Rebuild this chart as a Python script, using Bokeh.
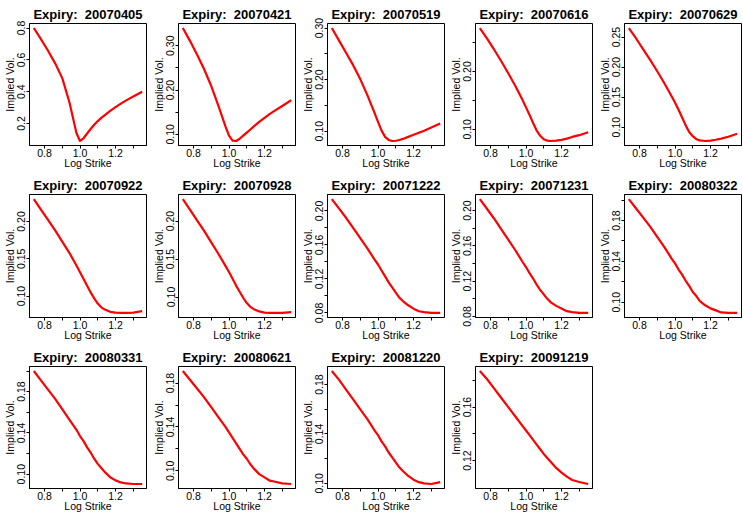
from bokeh.plotting import figure
from bokeh.layouts import gridplot
from bokeh.models import Range1d, FixedTicker, PrintfTickFormatter
from bokeh.embed import file_html
from bokeh.resources import INLINE

# ---------------- data ----------------
LOG_STRIKE = [0.74, 0.78, 0.82, 0.86, 0.90, 0.94, 0.98, 1.00, 1.02, 1.04, 1.06,
              1.08, 1.10, 1.12, 1.14, 1.17, 1.20, 1.23, 1.26, 1.30, 1.35]

EXPIRIES = ["20070405", "20070421", "20070519", "20070616", "20070629",
            "20070922", "20070928", "20071222", "20071231", "20080322",
            "20080331", "20080621", "20081220", "20091219"]

IV_20070405 = [0.800, 0.730, 0.657, 0.578, 0.485, 0.335, 0.140, 0.090, 0.107, 0.137, 0.165,
               0.192, 0.215, 0.235, 0.253, 0.279, 0.303, 0.325, 0.345, 0.370, 0.400]
IV_20070421 = [0.340, 0.311, 0.280, 0.247, 0.209, 0.165, 0.118, 0.097, 0.086, 0.085, 0.090,
               0.097, 0.104, 0.111, 0.118, 0.128, 0.137, 0.146, 0.154, 0.164, 0.177]
IV_20070519 = [0.300, 0.276, 0.252, 0.228, 0.201, 0.170, 0.136, 0.118, 0.101, 0.089, 0.083,
               0.081, 0.0815, 0.083, 0.085, 0.089, 0.093, 0.097, 0.101, 0.107, 0.115]
IV_20070616 = [0.275, 0.257, 0.238, 0.218, 0.197, 0.175, 0.151, 0.138, 0.125, 0.111, 0.098,
               0.089, 0.083, 0.0805, 0.080, 0.0805, 0.082, 0.084, 0.087, 0.090, 0.095]
IV_20070629 = [0.265, 0.248, 0.230, 0.212, 0.193, 0.173, 0.152, 0.141, 0.129, 0.116, 0.103,
               0.092, 0.085, 0.080, 0.078, 0.077, 0.0775, 0.079, 0.081, 0.084, 0.089]
IV_20070922 = [0.230, 0.216, 0.202, 0.188, 0.173, 0.158, 0.141, 0.132, 0.123, 0.114, 0.105,
               0.097, 0.090, 0.085, 0.082, 0.079, 0.078, 0.0775, 0.0775, 0.078, 0.080]
IV_20070928 = [0.229, 0.215, 0.201, 0.187, 0.172, 0.157, 0.141, 0.133, 0.124, 0.115, 0.107,
               0.099, 0.092, 0.087, 0.084, 0.081, 0.0795, 0.079, 0.079, 0.079, 0.080]
IV_20071222 = [0.214, 0.203, 0.192, 0.180, 0.168, 0.156, 0.143, 0.137, 0.130, 0.123, 0.116,
               0.110, 0.104, 0.098, 0.094, 0.089, 0.085, 0.082, 0.081, 0.080, 0.080]
IV_20071231 = [0.213, 0.202, 0.191, 0.179, 0.167, 0.155, 0.142, 0.136, 0.129, 0.123, 0.116,
               0.110, 0.105, 0.100, 0.096, 0.092, 0.089, 0.086, 0.085, 0.084, 0.084]
IV_20080322 = [0.201, 0.192, 0.183, 0.174, 0.164, 0.154, 0.143, 0.138, 0.132, 0.127, 0.121,
               0.116, 0.110, 0.106, 0.101, 0.097, 0.094, 0.092, 0.090, 0.0895, 0.0895]
IV_20080331 = [0.200, 0.191, 0.182, 0.173, 0.163, 0.153, 0.143, 0.137, 0.132, 0.126, 0.121,
               0.115, 0.110, 0.106, 0.102, 0.097, 0.094, 0.092, 0.091, 0.0905, 0.0905]
IV_20080621 = [0.191, 0.183, 0.175, 0.167, 0.158, 0.149, 0.140, 0.135, 0.130, 0.125, 0.120,
               0.115, 0.111, 0.106, 0.102, 0.097, 0.094, 0.091, 0.090, 0.0885, 0.088]
IV_20081220 = [0.191, 0.184, 0.176, 0.168, 0.160, 0.152, 0.143, 0.139, 0.134, 0.130, 0.125,
               0.121, 0.117, 0.113, 0.110, 0.106, 0.103, 0.101, 0.100, 0.0995, 0.101]
IV_20091219 = [0.187, 0.181, 0.174, 0.167, 0.160, 0.153, 0.146, 0.1425, 0.139, 0.1355, 0.132,
               0.1285, 0.125, 0.122, 0.119, 0.1145, 0.111, 0.108, 0.1055, 0.104, 0.1025]

IMPLIED_VOLS = [IV_20070405, IV_20070421, IV_20070519, IV_20070616, IV_20070629,
                IV_20070922, IV_20070928, IV_20071222, IV_20071231, IV_20080322,
                IV_20080331, IV_20080621, IV_20081220, IV_20091219]

Y_TICKS_LABELED = [[0.2, 0.4, 0.6, 0.8], [0.10, 0.20, 0.30], [0.10, 0.20, 0.30],
                   [0.10, 0.20], [0.10, 0.15, 0.20, 0.25], [0.10, 0.15, 0.20],
                   [0.10, 0.15, 0.20], [0.08, 0.12, 0.16, 0.20], [0.08, 0.12, 0.16, 0.20],
                   [0.10, 0.14, 0.18], [0.10, 0.14, 0.18], [0.10, 0.14, 0.18],
                   [0.10, 0.14, 0.18], [0.12, 0.16]]
Y_TICKS_UNLABELED = [[], [0.15, 0.25], [0.15, 0.25], [0.15, 0.25], [], [], [],
                     [0.10, 0.14, 0.18], [0.10, 0.14, 0.18], [0.12, 0.16, 0.20],
                     [0.12, 0.16, 0.20], [0.12, 0.16], [0.12, 0.16], [0.14, 0.18]]
Y_FORMATS = ["%.1f"] + ["%.2f"] * 13

X_TICKS_LABELED = [0.8, 1.0, 1.2]
X_TICKS_UNLABELED = [0.7, 0.9, 1.1, 1.3]

# ---------------- layout ----------------
FONT = "Liberation Sans"
COL_W = [149, 149, 148, 149, 148]
ROW_H = [171, 172, 171]
FRAME_W = 117
FRAME_H = 125
LEFT = 29
TOP = 23


def padded(vals):
    lo, hi = min(vals), max(vals)
    d = (hi - lo) * 0.04
    return lo - d, hi + d


def make_panel(i, w, h):
    xs = LOG_STRIKE
    ys = IMPLIED_VOLS[i]
    x0, x1 = padded(xs)
    y0, y1 = padded(ys)
    p = figure(width=w, height=h, output_backend="svg", toolbar_location=None,
               x_range=Range1d(x0, x1), y_range=Range1d(y0, y1),
               min_border_left=LEFT, min_border_right=w - LEFT - FRAME_W,
               min_border_top=TOP, min_border_bottom=h - TOP - FRAME_H,
               title="Expiry:\u00a0 " + EXPIRIES[i])
    p.title.text_font = FONT
    p.title.text_font_size = "13px"
    p.title.text_font_style = "bold"
    p.title.align = "center"
    p.title.standoff = 3
    p.title.text_color = "black"

    p.outline_line_color = "black"
    p.outline_line_width = 1
    p.outline_line_alpha = 1
    p.xgrid.visible = False
    p.ygrid.visible = False
    p.background_fill_color = "white"
    p.border_fill_color = "white"

    p.line(xs, ys, color="#ff0000", line_width=2.2, line_join="round")

    for ax in (p.xaxis[0], p.yaxis[0]):
        ax.axis_line_color = "black"
        ax.major_tick_line_color = "black"
        ax.minor_tick_line_color = "black"
        ax.major_tick_in = 0
        ax.major_tick_out = 3
        ax.minor_tick_in = 0
        ax.minor_tick_out = 3
        ax.major_label_text_font = FONT
        ax.major_label_text_font_size = "10.5px"
        ax.major_label_text_color = "black"
        ax.axis_label_text_font = FONT
        ax.axis_label_text_font_size = "10.5px"
        ax.axis_label_text_font_style = "normal"
        ax.axis_label_text_color = "black"

    p.xaxis.ticker = FixedTicker(ticks=X_TICKS_LABELED, minor_ticks=X_TICKS_UNLABELED)
    p.xaxis.formatter = PrintfTickFormatter(format="%.1f")
    p.xaxis.axis_label = "Log Strike"
    p.xaxis.major_label_standoff = 0
    p.xaxis.axis_label_standoff = -3

    p.yaxis.ticker = FixedTicker(ticks=Y_TICKS_LABELED[i], minor_ticks=Y_TICKS_UNLABELED[i])
    p.yaxis.formatter = PrintfTickFormatter(format=Y_FORMATS[i])
    p.yaxis.major_label_orientation = "vertical"
    p.yaxis.major_label_standoff = 1
    p.yaxis.axis_label = "Implied Vol."
    p.yaxis.axis_label_standoff = -1
    return p


rows = []
k = 0
for r in range(3):
    row = []
    for c in range(5):
        if k < len(EXPIRIES):
            row.append(make_panel(k, COL_W[c], ROW_H[r]))
        else:
            row.append(None)
        k += 1
    rows.append(row)

grid = gridplot(rows, toolbar_location=None)

open("out.html", "w").write(file_html(grid, INLINE))
